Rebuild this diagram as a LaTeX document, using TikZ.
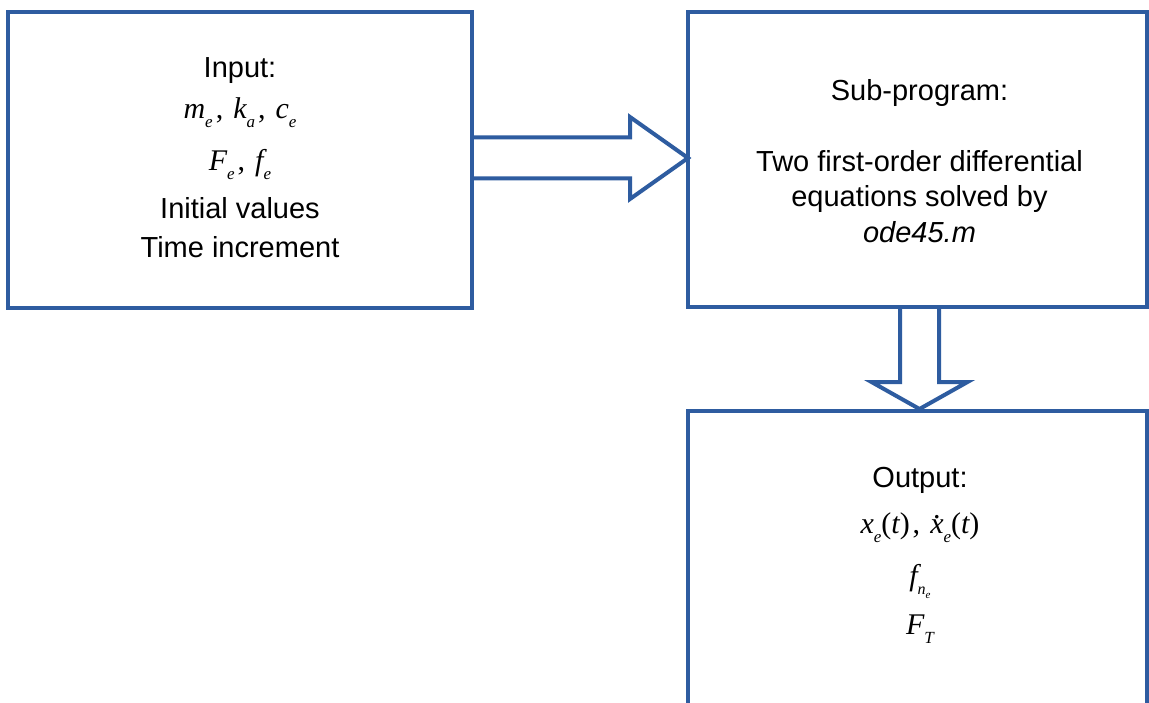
\documentclass[tikz,border=0pt]{standalone}
\usepackage{fontspec}
\setmainfont{Liberation Sans}
\newfontfamily\tmr{Liberation Serif}
\usetikzlibrary{calc}
\definecolor{frameblue}{RGB}{46,92,160}
% italic variable, lowered subscript, second-level subscript
\newcommand\vi[1]{{\tmr\itshape #1}}
\newcommand\sbs[1]{\raisebox{-0.3em}{\fontsize{17}{17}\selectfont\tmr\itshape #1}}
\newcommand\ssbs[1]{\raisebox{-0.25em}{\fontsize{11}{11}\selectfont\tmr\itshape #1}}
\newcommand\dotx{\ooalign{\hfil\raisebox{1.05ex}{\tmr.}\hfil\cr\vi{x}\cr}}
\newcommand\sep{\kern3pt,\kern10pt}
\newcommand\mathsize{\fontsize{30}{40}\selectfont}
\begin{document}
\begin{tikzpicture}[x=1pt,y=-1pt,
  box/.style={draw=frameblue, line width=4pt, outer sep=0pt, inner sep=0pt},
  flow/.style={draw=frameblue, line width=4pt, line join=miter},
  label/.style={align=center, font=\fontsize{29}{40}\selectfont, inner sep=0pt}]
\useasboundingbox (0,0) rectangle (1149,703);
\fill[white] (0,0) rectangle (1149,703);

% blocks
\node[box, minimum width=464pt, minimum height=296pt] (in) at (240,160) {};
\node[box, minimum width=459pt, minimum height=295pt] (sub) at (917.5,159.5) {};
\node[box, minimum width=459pt, minimum height=309pt] (out) at (917.5,565.5) {};

% block texts
\node[label] (intext) at ($(in.center)+(0,-2)$) {Input:\\[1pt]
  {\tmr\mathsize\vi{m}\sbs{e}\sep\vi{k}\sbs{a}\sep\vi{c}\sbs{e}}\\[12pt]
  {\tmr\mathsize\vi{F}\sbs{e}\sep\vi{f}\sbs{e}}\\[8pt]
  Initial values\\[-1pt]
  Time increment};
\node[label, font=\fontsize{29}{35.5}\selectfont] (subtext) at ($(sub.center)+(2,1.5)$) {Sub-program:\\[35pt]
  Two first-order differential\\
  equations solved by\\
  \textit{ode45.m}};
\node[label] (outtext) at (920,555) {Output:\\[6pt]
  {\tmr\mathsize\vi{x}\sbs{e}(\vi{t})\sep\dotx\sbs{e}(\vi{t})}\\[12pt]
  {\tmr\mathsize\vi{f}\raisebox{-0.3em}{\fontsize{16}{16}\selectfont\vi{n}\ssbs{e}}}\\[9pt]
  {\tmr\mathsize\vi{F}\sbs{T}}};

% block arrow: input -> sub-program
\coordinate (rt) at ($(sub.west)+(0,-1.5)$);
\coordinate (rs) at (in.east |- rt);
\draw[flow] ($(rs)+(0,-20.5)$) -- ($(rt)+(-58,-20.5)$) -- ($(rt)+(-58,-41)$)
  -- (rt) -- ($(rt)+(-58,41)$) -- ($(rt)+(-58,20.5)$) -- ($(rs)+(0,20.5)$);

% block arrow: sub-program -> output
\coordinate (dt) at ($(out.north)+(2,-2)$);
\coordinate (ds) at (dt |- sub.south);
\draw[flow] ($(ds)+(-19.5,0)$) -- ($(dt)+(-19.5,-27)$) -- ($(dt)+(-48,-27)$)
  -- (dt) -- ($(dt)+(48,-27)$) -- ($(dt)+(19.5,-27)$) -- ($(ds)+(19.5,0)$);
\end{tikzpicture}
\end{document}
